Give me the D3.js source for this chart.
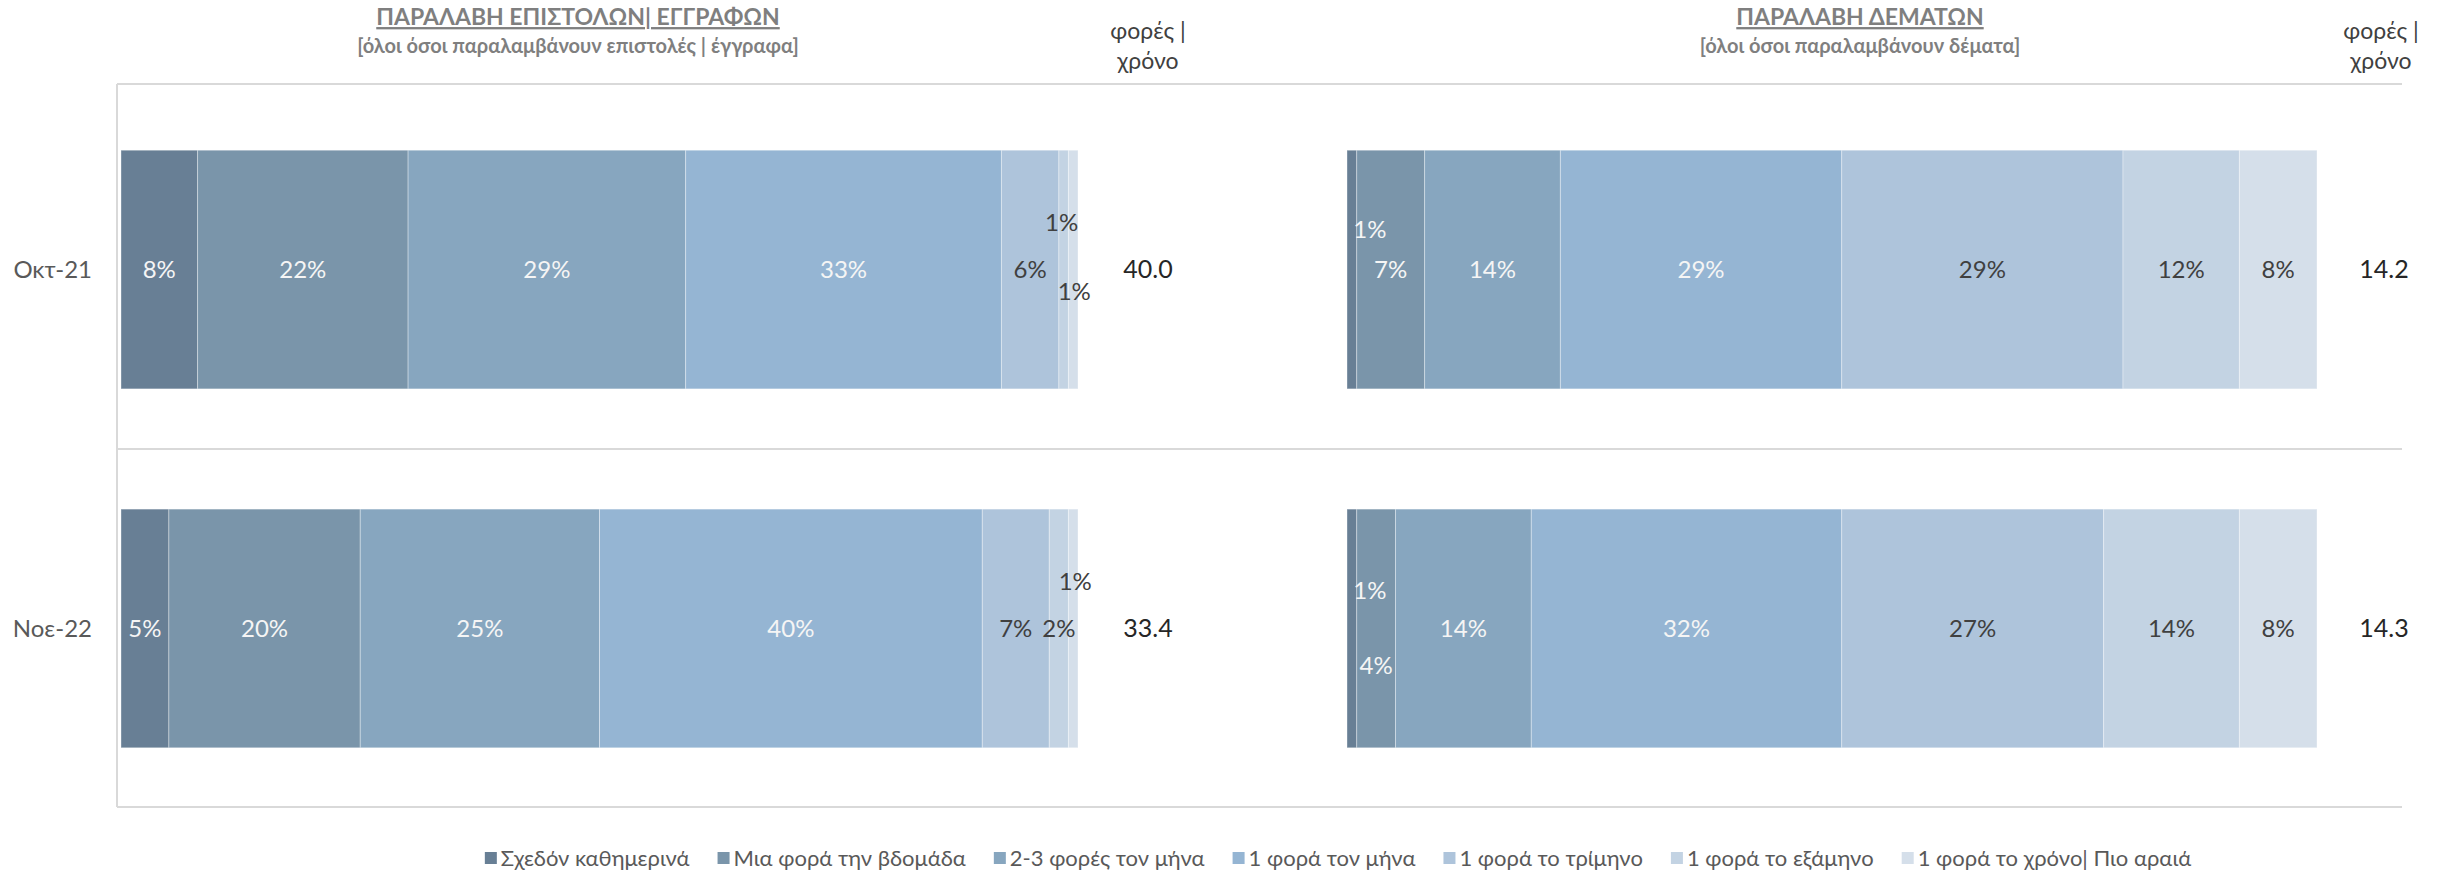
<!DOCTYPE html>
<html>
<head>
<meta charset="utf-8">
<script src="https://cdn.jsdelivr.net/npm/d3@7"></script>
<style>
  html, body { margin: 0; padding: 0; background: #ffffff; }
  svg { display: block; font-family: "Lato", "Open Sans", sans-serif; }
</style>
</head>
<body>
<svg id="chart" width="2438" height="873"></svg>
<script>
// ---------- DATA ----------
const categories = ["Οκτ-21", "Νοε-22"];
const seriesNames = [
  "Σχεδόν καθημερινά",
  "Μια φορά την βδομάδα",
  "2-3 φορές τον μήνα",
  "1 φορά τον μήνα",
  "1 φορά το τρίμηνο",
  "1 φορά το εξάμηνο",
  "1 φορά το χρόνο| Πιο αραιά"
];
const lettersValues = [
  [8, 22, 29, 33, 6, 1, 1],
  [5, 20, 25, 40, 7, 2, 1]
];
const parcelsValues = [
  [1, 7, 14, 29, 29, 12, 8],
  [1, 4, 14, 32, 27, 14, 8]
];
const lettersTimes = [40.0, 33.4];
const parcelsTimes = [14.2, 14.3];
const panelTitles = ["ΠΑΡΑΛΑΒΗ ΕΠΙΣΤΟΛΩΝ| ΕΓΓΡΑΦΩΝ", "ΠΑΡΑΛΑΒΗ ΔΕΜΑΤΩΝ"];
const panelSubtitles = ["[όλοι όσοι παραλαμβάνουν επιστολές | έγγραφα]", "[όλοι όσοι παραλαμβάνουν δέματα]"];
const timesHeader = ["φορές |", "χρόνο"];

// ---------- STYLE ----------
const colors = ["#687f95", "#7a95aa", "#87a6bf", "#95b5d3", "#aec4db", "#c3d3e3", "#d5dfea"];
const labelColors = ["#f5f5f5", "#f5f5f5", "#f5f5f5", "#f5f5f5", "#404040", "#404040", "#404040"];
// manual label nudges [panel, row, series] -> [dx, dy]
const labelNudges = {
  "0-0-5": [-2, -47], "0-0-6": [1, 22],
  "0-1-6": [2, -47],
  "1-0-0": [18, -40],
  "1-1-0": [18, -38], "1-1-1": [0, 37]
};

const svg = d3.select("#chart");
const plotLeft = 117, plotRight = 2402, plotTop = 84, plotBottom = 807;

const y = d3.scaleBand().domain(categories).range([91, 807]).paddingInner(0.335).paddingOuter(0.165);
const bw = y.bandwidth();

const panels = [
  { values: lettersValues, times: lettersTimes, x: d3.scaleLinear().domain([0, 100]).range([121, 1078]),
    titleX: 578, timesX: 1148, headerX: 1148 },
  { values: parcelsValues, times: parcelsTimes, x: d3.scaleLinear().domain([0, 100]).range([1347, 2317]),
    titleX: 1860, timesX: 2384, headerX: 2381 }
];

// gridlines / axis frame
const grid = svg.append("g");
const midLine = (y(categories[0]) + bw + y(categories[1])) / 2;
[plotTop, midLine, plotBottom].forEach(yy => {
  grid.append("line").attr("x1", plotLeft).attr("x2", plotRight).attr("y1", yy).attr("y2", yy)
    .attr("stroke", "#d9d9d9").attr("stroke-width", 2);
});
grid.append("line").attr("x1", plotLeft).attr("x2", plotLeft).attr("y1", plotTop).attr("y2", plotBottom)
  .attr("stroke", "#d9d9d9").attr("stroke-width", 2);

// category labels
svg.append("g").selectAll("text").data(categories).join("text")
  .attr("x", 92).attr("y", d => y(d) + bw / 2).attr("dy", "0.35em")
  .attr("text-anchor", "end").attr("font-size", 24).attr("fill", "#595959")
  .text(d => d);

panels.forEach((p, pi) => {
  const g = svg.append("g");
  const rows = p.values.map((vals, ri) => {
    let acc = 0;
    return vals.map((v, si) => { const s = { v, x0: acc, x1: acc + v, si, ri, cat: categories[ri] }; acc += v; return s; });
  });
  rows.forEach(row => {
    g.append("g").selectAll("rect").data(row).join("rect")
      .attr("x", d => p.x(d.x0)).attr("width", d => p.x(d.x1) - p.x(d.x0))
      .attr("y", d => y(d.cat)).attr("height", bw)
      .attr("fill", d => colors[d.si])
      .attr("stroke", "rgba(255,255,255,0.35)").attr("stroke-width", 1);
  });
  rows.forEach(row => {
    g.append("g").selectAll("text").data(row).join("text")
      .attr("x", d => { const n = labelNudges[pi + "-" + d.ri + "-" + d.si]; return (p.x(d.x0) + p.x(d.x1)) / 2 + (n ? n[0] : 0); })
      .attr("y", d => { const n = labelNudges[pi + "-" + d.ri + "-" + d.si]; return y(d.cat) + bw / 2 + (n ? n[1] : 0); })
      .attr("dy", "0.35em").attr("text-anchor", "middle")
      .attr("font-size", 24).attr("fill", d => labelColors[d.si])
      .text(d => d.v + "%");
  });
  g.append("g").selectAll("text").data(p.times).join("text")
    .attr("x", p.timesX).attr("y", (d, i) => y(categories[i]) + bw / 2).attr("dy", "0.35em")
    .attr("text-anchor", "middle").attr("font-size", 25).attr("fill", "#262626")
    .text(d => d3.format(".1f")(d));
  g.append("text").attr("x", p.titleX).attr("y", 17).attr("dy", "0.35em").attr("text-anchor", "middle")
    .attr("font-size", 23).attr("font-weight", "bold").attr("fill", "#7f7f7f")
    .style("text-decoration", "underline")
    .text(panelTitles[pi]);
  g.append("text").attr("x", p.titleX).attr("y", 46).attr("dy", "0.35em").attr("text-anchor", "middle")
    .attr("font-size", 20).attr("font-weight", "bold").attr("fill", "#7f7f7f")
    .text(panelSubtitles[pi]);
  g.append("g").selectAll("text").data(timesHeader).join("text")
    .attr("x", p.headerX).attr("y", (d, i) => 31 + i * 30).attr("dy", "0.35em")
    .attr("text-anchor", "middle").attr("font-size", 23).attr("fill", "#404040")
    .text(d => d);
});

// legend
const lg = svg.append("g");
const items = lg.selectAll("g").data(seriesNames).join("g");
items.append("rect").attr("width", 12).attr("height", 12).attr("y", -6).attr("fill", (d, i) => colors[i]);
items.append("text").attr("x", 16).attr("dy", "0.35em").attr("font-size", 22).attr("fill", "#595959").text(d => d);
let cx = 0;
const offs = [];
items.each(function (d, i) {
  offs.push(cx);
  const w = 16 + d3.select(this).select("text").node().getComputedTextLength();
  cx += w + 28;
});
const totalW = cx - 28;
const startX = 1338 - totalW / 2;
items.attr("transform", (d, i) => `translate(${startX + offs[i]},858)`);
</script>
</body>
</html>
